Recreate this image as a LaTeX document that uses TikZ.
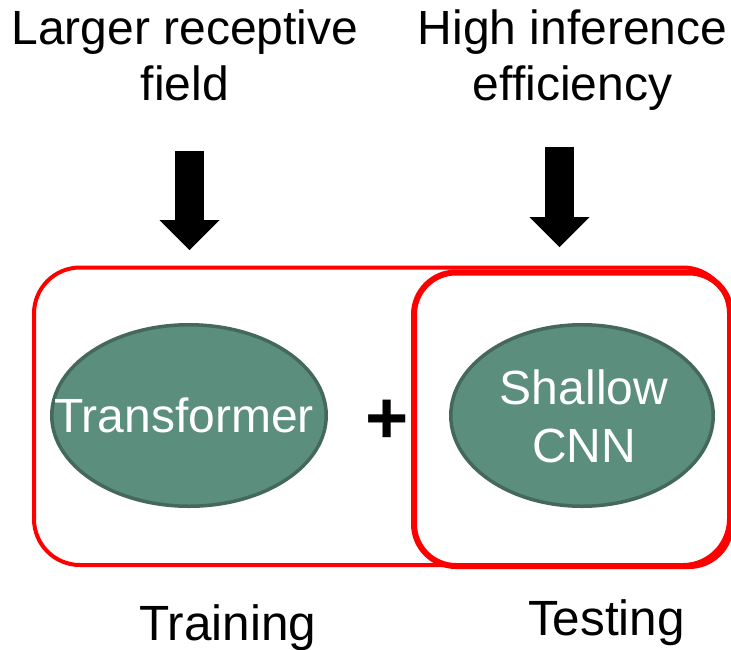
\documentclass[tikz,border=0pt]{standalone}
\usepackage{fontspec}
\setmainfont{Liberation Sans}
\usetikzlibrary{arrows.meta,shapes.geometric}
\definecolor{netgreen}{RGB}{91,142,124}
\definecolor{netedge}{RGB}{68,104,89}

\begin{document}
\begin{tikzpicture}[x=1pt,y=-1pt,
  blob/.style={ellipse, draw=netedge, line width=3.5pt, fill=netgreen, inner sep=0pt},
  blobtext/.style={white, align=center, inner sep=0pt, font=\fontsize{48}{58}\selectfont},
  headline/.style={anchor=north, inner sep=0pt, align=center, font=\fontsize{48}{56}\selectfont},
  footline/.style={anchor=base, inner sep=0pt, font=\fontsize{49.5}{50}\selectfont},
  bigarrow/.style={line width=29pt, -{Triangle[width=60pt,length=30pt,line width=0pt]}},
  stagebox/.style={draw=red}]

\useasboundingbox (0,0) rectangle (731,649);
\clip (0,0) rectangle (731,649);

\draw[stagebox, line width=4pt, rounded corners=46pt] (34,267.5) rectangle (729,565);
\draw[stagebox, line width=6pt, rounded corners=42pt] (414,272.5) rectangle (731,566);

\node[blob, minimum width=274.5pt, minimum height=181.5pt] (tfm) at (189,415.5) {};
\node[blob, minimum width=262.5pt, minimum height=181.5pt] (cnn) at (582,415.5) {};
\node[blobtext] (tfmtext) at (184,415.5) {Transformer};
\node[blobtext] (cnntext) at (584,416.5) {Shallow\\CNN};

\node[font=\bfseries\fontsize{74}{74}\selectfont, inner sep=0pt] (plus) at (387,422) {+};

\node[headline] (recep) at (185,10) {Larger receptive\\field};
\node[headline] (effic) at (572.5,10) {High inference\\efficiency};

\coordinate (recfrom) at (189.5,151);
\coordinate (recto) at (189.5,250);
\coordinate (efffrom) at (559.5,147);
\coordinate (effto) at (559.5,247);
\draw[bigarrow] (recfrom) -- (recto);
\draw[bigarrow] (efffrom) -- (effto);

\node[footline] (train) at (228,640) {Training};
\node[footline] (test) at (606.5,635) {Testing};

\end{tikzpicture}
\end{document}
